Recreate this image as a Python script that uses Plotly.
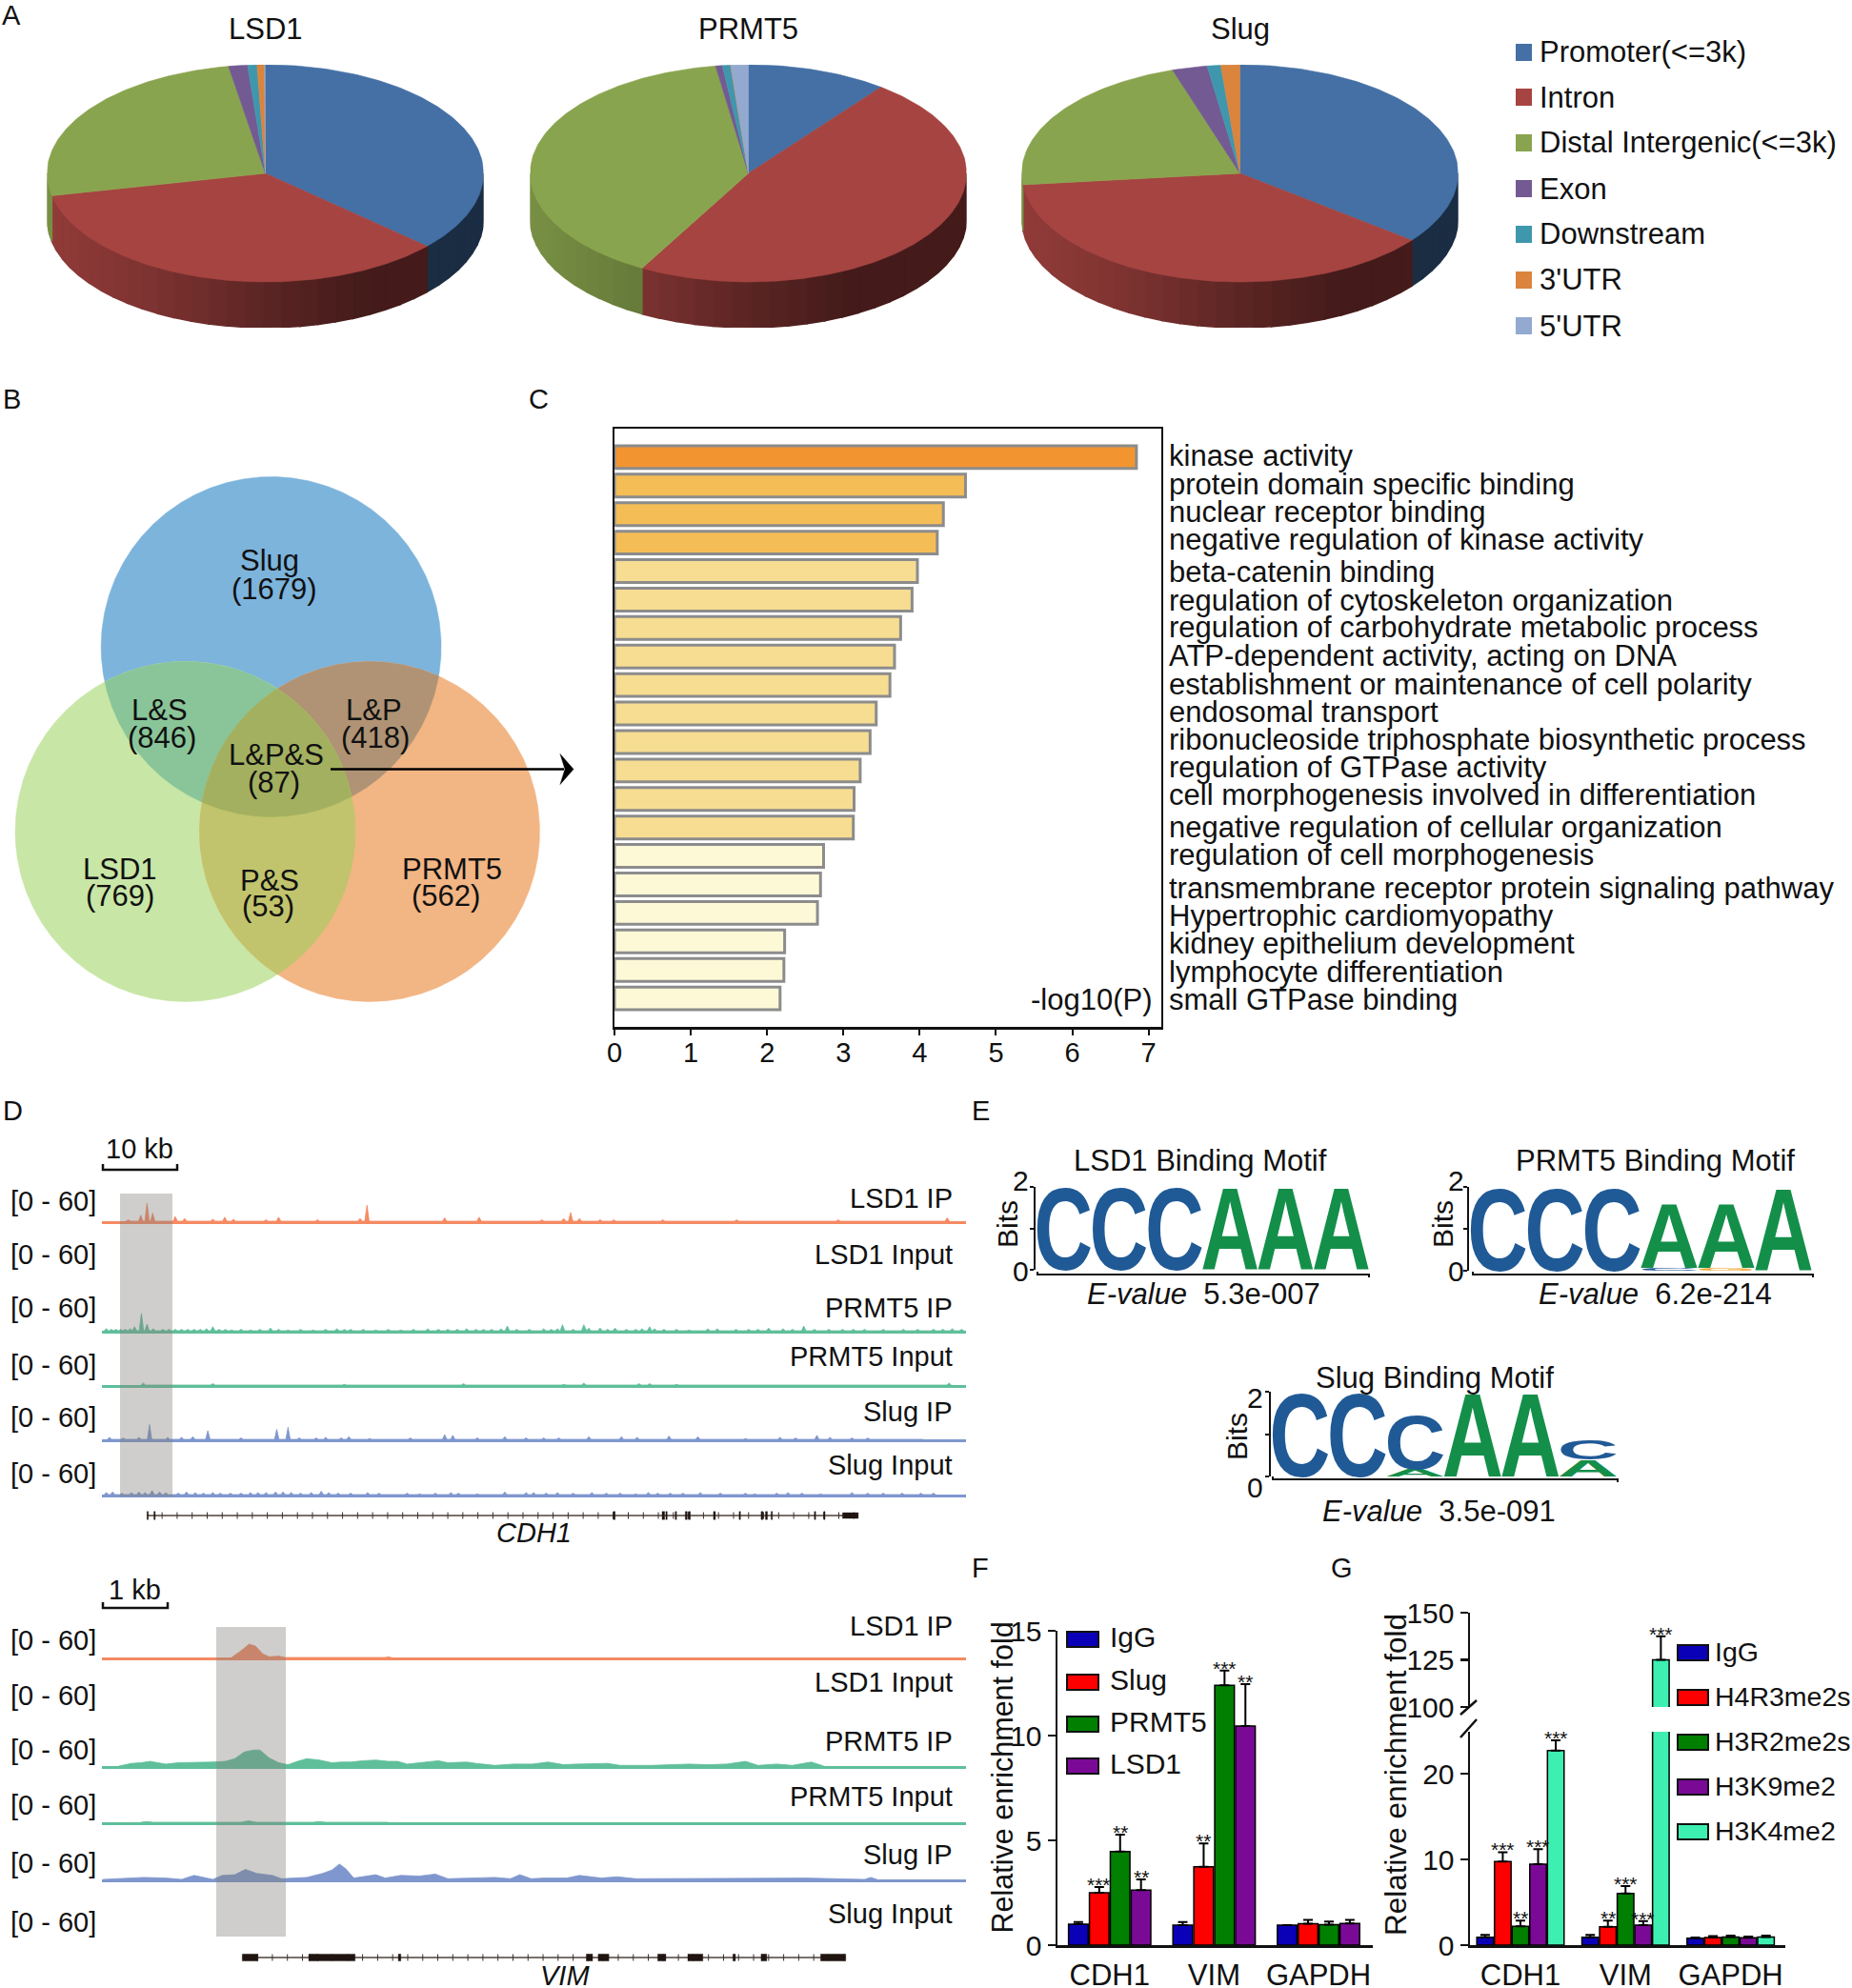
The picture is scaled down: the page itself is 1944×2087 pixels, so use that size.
import json
import numpy as np
import plotly.graph_objects as go

W, H = 1944, 2087
FONT = "Liberation Sans"

# ---------- A: genomic distribution ----------
feature_names = ["Promoter(<=3k)", "Intron", "Distal Intergenic(<=3k)", "Exon", "Downstream", "3'UTR", "5'UTR"]
feature_colors = ["#4470A5", "#A64441", "#89A44E", "#735A92", "#3F97AE", "#DB843D", "#93A9CF"]
pie_names = ["LSD1", "PRMT5", "Slug"]
lsd1_shares = [36.7, 35.0, 25.6, 1.4, 0.7, 0.55, 0.05]
prmt5_shares = [10.4, 47.7, 39.5, 0.5, 0.6, 0.02, 1.28]
slug_shares = [35.6, 37.8, 21.7, 2.6, 1.0, 1.4, 0.0]

# ---------- B: overlap ----------
venn_labels = ["Slug", "L&S", "L&P", "L&P&S", "LSD1", "P&S", "PRMT5"]
venn_counts = [1679, 846, 418, 87, 769, 53, 562]

# ---------- C: enrichment ----------
go_terms = ["kinase activity", "protein domain specific binding", "nuclear receptor binding",
            "negative regulation of kinase activity", "beta-catenin binding",
            "regulation of cytoskeleton organization", "regulation of carbohydrate metabolic process",
            "ATP-dependent activity, acting on DNA", "establishment or maintenance of cell polarity",
            "endosomal transport", "ribonucleoside triphosphate biosynthetic process",
            "regulation of GTPase activity", "cell morphogenesis involved in differentiation",
            "negative regulation of cellular organization", "regulation of cell morphogenesis",
            "transmembrane receptor protein signaling pathway", "Hypertrophic cardiomyopathy",
            "kidney epithelium development", "lymphocyte differentiation", "small GTPase binding"]
go_values = [6.84, 4.60, 4.31, 4.23, 3.97, 3.90, 3.75, 3.67, 3.61, 3.43,
             3.35, 3.22, 3.14, 3.13, 2.74, 2.70, 2.66, 2.23, 2.22, 2.17]
go_colors = ["#F29530"] + ["#F5BD56"] * 3 + ["#F7DD91"] * 10 + ["#FDF9D6"] * 6

# ---------- D: tracks (position along the browser window, signal 0-60) ----------
track_names = ["LSD1 IP", "LSD1 Input", "PRMT5 IP", "PRMT5 Input", "Slug IP", "Slug Input"]
track_colors = ["#F58A63", "#F58A63", "#5FBF9B", "#5FBF9B", "#7F97CE", "#7F97CE"]
cdh1_lsd1_ip = [(205,2),(225,9),(235,27),(244,12),(280,7),(295,4),(340,3),(359,6),(373,3),(425,2),(445,6),(507,2),
                (575,4),(586,24),(710,5),(765,6),(865,2),(900,4),(911,13),(925,4),(958,2),(980,2),(1058,2),(1176,2),
                (1338,2),(1462,1),(1512,5)]
cdh1_lsd1_input = []
cdh1_prmt5_ip = [(170,3),(178,2),(185,2),(193,2),(200,2),(208,3),(215,6),(226,26),(235,10),(245,3),(260,2),(270,2),
                 (280,2),(290,2),(300,2),(310,2),(320,2),(330,3),(340,6),(350,2),(360,2),(370,1),(385,2),(400,1),
                 (415,2),(432,4),(445,2),(460,1),(480,2),(500,1),(520,2),(538,3),(550,2),(560,2),(580,2),(600,1),
                 (620,2),(640,1),(660,2),(683,3),(700,2),(715,2),(730,2),(745,3),(760,2),(772,2),(785,2),(800,3),
                 (810,7),(825,2),(845,2),(868,3),(880,2),(890,3),(898,9),(915,2),(932,9),(940,4),(958,4),(970,2),
                 (982,4),(1000,2),(1015,2),(1025,3),(1037,6),(1045,3),(1060,2),(1080,2),(1100,1),(1130,3),(1145,3),
                 (1175,2),(1195,2),(1210,2),(1227,4),(1250,3),(1265,2),(1283,7),(1300,2),(1323,2),(1345,2),(1362,2),
                 (1380,2),(1410,2),(1442,2),(1465,2),(1490,2),(1505,2),(1520,3),(1535,2)]
cdh1_prmt5_input = [(229,3),(340,2),(550,1),(740,2),(900,1),(932,3),(1020,2),(1037,2),(1080,1),(1245,1),(1515,3)]
cdh1_slug_ip = [(175,3),(197,2),(222,3),(239,22),(268,3),(290,3),(308,4),(332,13),(385,2),(442,15),(460,18),(478,2),
                (505,2),(520,3),(545,2),(557,4),(590,1),(625,1),(655,2),(710,7),(723,6),(762,2),(806,4),(840,2),
                (868,2),(892,2),(940,4),(992,4),(1017,3),(1068,5),(1114,4),(1190,1),(1245,3),(1270,2),(1304,6),
                (1325,3),(1360,2),(1385,2),(1420,1),(1470,1)]
cdh1_slug_input = [(170,3),(180,4),(195,2),(210,3),(222,4),(232,3),(243,6),(255,4),(265,3),(285,2),(298,4),(312,3),
                   (325,2),(340,3),(352,2),(368,2),(385,2),(400,3),(412,3),(425,3),(440,4),(452,4),(465,3),(480,2),
                   (497,3),(513,5),(525,3),(540,2),(560,2),(587,3),(605,2),(625,1),(650,2),(670,1),(695,2),(720,3),
                   (732,2),(762,1),(806,4),(840,3),(852,3),(872,2),(890,3),(915,2),(945,3),(968,2),(990,2),(1015,1),
                   (1035,3),(1050,2),(1070,2),(1090,2),(1118,3),(1150,2),(1170,1),(1190,2),(1205,1),(1240,2),(1258,3),
                   (1280,2),(1310,1),(1360,3),(1385,2),(1410,2),(1440,2),(1470,2),(1490,2)]
cdh1_tracks = [cdh1_lsd1_ip, cdh1_lsd1_input, cdh1_prmt5_ip, cdh1_prmt5_input, cdh1_slug_ip, cdh1_slug_input]

vim_lsd1_ip = [(370,0),(385,10),(398,20),(408,17),(420,5),(430,1),(445,2),(455,0),(615,0),(620,1),(625,0)]
vim_lsd1_input = []
vim_prmt5_ip = [(190,0),(210,4),(225,5),(240,7),(252,5),(265,3),(285,5),(300,5),(320,6),(340,6),(360,7),(375,11),
                (390,21),(405,24),(415,24),(430,12),(445,5),(460,2),(475,7),(490,11),(510,9),(530,5),(545,6),(560,6),
                (580,8),(600,9),(620,7),(635,7),(650,3),(675,6),(700,8),(715,5),(730,5),(745,6),(760,4),(790,1),
                (820,3),(850,3),(875,6),(900,2),(920,3),(940,3),(970,4),(990,1),(1040,1),(1100,3),(1130,2),
                (1160,3),(1190,7),(1210,1),(1240,3),(1265,1),(1295,6),(1315,0)]
vim_prmt5_input = [(225,0),(235,1),(245,0),(385,0),(397,2),(410,0),(500,0),(510,1),(520,0),(600,0),(610,1),(620,0)]
vim_slug_ip = [(165,0),(200,2),(230,3),(265,2),(290,0),(310,6),(325,3),(340,0),(355,6),(375,7),(392,15),(410,9),
               (435,6),(450,1),(470,2),(490,3),(515,9),(530,14),(542,23),(552,16),(565,2),(585,5),(600,7),(615,2),
               (640,6),(670,5),(695,8),(715,1),(755,2),(790,3),(815,1),(830,7),(848,1),(870,2),(905,2),(925,6),
               (960,2),(985,4),(1015,1),(1075,1),(1190,2),(1230,2),(1285,2),(1380,0),(1390,3),(1400,0)]
vim_slug_input = []
vim_tracks = [vim_lsd1_ip, vim_lsd1_input, vim_prmt5_ip, vim_prmt5_input, vim_slug_ip, vim_slug_input]

cdh1_exons = [(235,237),(246,248),(979,982),(1057,1061),(1063,1065),(1078,1080),(1094,1097),(1099,1102),(1139,1142),
              (1180,1182),(1215,1218),(1222,1225),(1231,1233),(1300,1302),(1315,1317),(1345,1370)]
vim_exons = [(387,412),(493,508),(508,567),(636,640),(936,946),(955,972),(1050,1063),(1098,1122),(1170,1174),
             (1215,1224),(1310,1350)]

# ---------- E: motifs (slot, letter, lower bits, upper bits) ----------
lsd1_motif = [(0,"C",0,2),(1,"C",0,2),(2,"C",0,2),(3,"A",0,2),(4,"A",0,2),(5,"A",0,2)]
prmt5_motif = [(0,"C",0,2),(1,"C",0,2),(2,"C",0,2),(3,"C",0,0.07),(3,"A",0.07,1.65),(4,"G",0,0.07),(4,"A",0.07,1.65),(5,"A",0,2)]
slug_motif = [(0,"C",0,2),(1,"C",0,2),(2,"A",0,0.17),(2,"C",0.17,1.45),(3,"A",0,2),(4,"A",0,2),(5,"A",0,0.4),(5,"C",0.4,0.88)]
letter_colors = {"C": "#205A96", "A": "#148F4A", "G": "#F0A92F"}

# ---------- F ----------
genes = ["CDH1", "VIM", "GAPDH"]
f_names = ["IgG", "Slug", "PRMT5", "LSD1"]
f_colors = ["#0A00B8", "#FF0000", "#007F00", "#7A0A96"]
f_igg = [1.0, 0.95, 0.95];   f_igg_err = [0.1, 0.15, 0.0]
f_slug = [2.5, 3.74, 1.02];  f_slug_err = [0.27, 1.11, 0.18]
f_prmt5 = [4.47, 12.4, 0.98]; f_prmt5_err = [0.8, 0.7, 0.15]
f_lsd1 = [2.62, 10.45, 1.03]; f_lsd1_err = [0.52, 2.0, 0.17]
f_stars = [["", "***", "**", "**"], ["", "**", "***", "**"], ["", "", "", ""]]

# ---------- G ----------
g_names = ["IgG", "H4R3me2s", "H3R2me2s", "H3K9me2", "H3K4me2"]
g_colors = ["#0A00B8", "#FF0000", "#007F00", "#7A0A96", "#3DEFB0"]
g_igg = [0.93, 0.93, 0.8];     g_igg_err = [0.27, 0.27, 0.1]
g_h4r3 = [9.75, 2.15, 0.9];    g_h4r3_err = [1.1, 0.7, 0.15]
g_h3r2 = [2.2, 6.04, 0.95];    g_h3r2_err = [0.65, 0.86, 0.15]
g_h3k9 = [9.45, 2.33, 0.85];   g_h3k9_err = [1.75, 0.47, 0.15]
g_h3k4 = [22.7, 125.0, 0.95];  g_h3k4_err = [1.2, 12.5, 0.15]
g_stars = [["", "***", "**", "***", "***"], ["", "**", "***", "***", "***"], ["", "", "", "", ""]]

# =============================================================
fig = go.Figure()
layout = {}
annotations = []
shapes = []
axis_count = [0]
logo_jobs = []


def fx(x):
    return x / W


def fy(y):
    return 1 - y / H


def new_axes(x0, x1, ytop, ybot, xopts=None, yopts=None):
    axis_count[0] += 1
    n = axis_count[0]
    sx = "" if n == 1 else str(n)
    base = dict(visible=False, fixedrange=True, showgrid=False, zeroline=False)
    xa = dict(base, domain=[fx(x0), fx(x1)], anchor="y" + sx)
    ya = dict(base, domain=[fy(ybot), fy(ytop)], anchor="x" + sx)
    xa.update(xopts or {})
    ya.update(yopts or {})
    layout["xaxis" + sx] = xa
    layout["yaxis" + sx] = ya
    return "x" + sx, "y" + sx


def text(x, y, s, size=30, anchor="center", angle=0, color="#111111", **kw):
    annotations.append(dict(x=fx(x), y=fy(y), xref="paper", yref="paper", text=s, showarrow=False,
                            xanchor=anchor, yanchor="middle", textangle=angle, borderpad=0, borderwidth=0,
                            font=dict(family=FONT, size=size, color=color), **kw))


def rect(x0, y0, x1, y1, fill, line=None, lw=0):
    shapes.append(dict(type="rect", xref="paper", yref="paper", x0=fx(x0), x1=fx(x1), y0=fy(y0), y1=fy(y1),
                       fillcolor=fill, line=dict(color=line or fill, width=lw), layer="above"))


def path(points, color="#000000", lw=2, fill=None):
    d = "M " + " L ".join(f"{fx(x):.6f},{fy(y):.6f}" for x, y in points)
    if fill:
        d += " Z"
    shapes.append(dict(type="path", xref="paper", yref="paper", path=d, layer="above",
                       line=dict(color=color, width=lw), fillcolor=fill or "rgba(0,0,0,0)"))


def poly(xa, ya, xs, ys, color, lw=0.6):
    fig.add_trace(go.Scatter(x=xs, y=ys, xaxis=xa, yaxis=ya, mode="lines", fill="toself", fillcolor=color,
                             line=dict(color=color, width=lw), hoverinfo="skip", showlegend=False))


def shade(hex_color, f):
    h = hex_color.lstrip("#")
    return "rgb({},{},{})".format(*[int(int(h[i:i + 2], 16) * f) for i in (0, 2, 4)])


# ---------- A ----------
RX, RY, DEPTH = 229, 114, 48
pie_cx = [278.5, 785.5, 1301.5]
pie_cy = 182
for name, shares, cx in zip(pie_names, [lsd1_shares, prmt5_shares, slug_shares], pie_cx):
    d = DEPTH / RY
    xa, ya = new_axes(cx - RX, cx + RX, pie_cy - RY, pie_cy + RY + DEPTH,
                      dict(range=[-1, 1]), dict(range=[-1 - d, 1]))
    edges = np.concatenate([[0], np.cumsum(shares)]) / sum(shares) * 360
    for i, col in enumerate(feature_colors):
        a0, a1 = max(edges[i], 90), min(edges[i + 1], 270)
        if a1 > a0:
            steps = np.linspace(a0, a1, max(2, int((a1 - a0) / 5) + 2))
            for s0, s1 in zip(steps[:-1], steps[1:]):
                r0, r1 = np.radians([s0, s1])
                x0, x1 = np.sin(r0), np.sin(r1)
                y0, y1 = np.cos(r0), np.cos(r1)
                f = float(np.interp((x0 + x1) / 2, [-1, -0.5, 0, 0.45, 1], [0.88, 0.75, 0.55, 0.41, 0.41]))
                c = shade(col, f)
                poly(xa, ya, [x0, x1, x1, x0, x0], [y0, y1, y1 - d, y0 - d, y0], c, 1.5)
    for i, col in enumerate(feature_colors):
        if edges[i + 1] > edges[i]:
            t = np.radians(np.linspace(edges[i], edges[i + 1], max(2, int(edges[i + 1] - edges[i]) + 2)))
            poly(xa, ya, np.r_[0, np.sin(t), 0], np.r_[0, np.cos(t), 0], col)
    text(cx, 31, name, 31)

legend_y = [55, 102, 150, 198, 246, 294, 342]
for nm, col, y in zip(feature_names, feature_colors, legend_y):
    rect(1591, y - 9, 1608, y + 9, col)
    text(1616, y, nm, 31, "left")

# ---------- B ----------
vx, vy = new_axes(0, 620, 490, 1060, dict(range=[0, 620]), dict(range=[1060, 490]))
CIRC = {"S": (284.6, 679, 178.5), "L": (194.5, 873, 178.5), "P": (388, 873, 178.5)}


def region(keys):
    pts = []
    for k in keys:
        cx, cy, r = CIRC[k]
        t = np.radians(np.arange(0, 360, 0.5))
        px, py = cx + r * np.cos(t), cy + r * np.sin(t)
        keep = np.ones_like(t, dtype=bool)
        for o in keys:
            if o != k:
                ox, oy, orr = CIRC[o]
                keep &= (px - ox) ** 2 + (py - oy) ** 2 <= orr ** 2
        pts.append(np.c_[px[keep], py[keep]])
    pts = np.vstack(pts)
    c = pts.mean(axis=0)
    order = np.argsort(np.arctan2(pts[:, 1] - c[1], pts[:, 0] - c[0]))
    pts = pts[order]
    return np.r_[pts[:, 0], pts[0, 0]], np.r_[pts[:, 1], pts[0, 1]]


venn_fill = [("S", "#7DB4DC"), ("L", "#C8E6A6"), ("P", "#F2B584"), ("LS", "#89C598"), ("SP", "#AF9374"),
             ("LP", "#C1C46C"), ("LSP", "#A3B060")]
for keys, col in venn_fill:
    xs, ys = region(keys)
    poly(vx, vy, xs, ys, col, 0.5)

venn_name_pos = [(283, 589), (167, 745), (392, 745), (290, 792), (126, 912), (283, 924), (474, 912)]
venn_count_pos = [(288, 618), (170, 774), (394, 774), (287, 821), (126, 941), (281, 952), (468, 941)]
for nm, ct, p, q in zip(venn_labels, venn_counts, venn_name_pos, venn_count_pos):
    text(p[0], p[1], nm, 31)
    text(q[0], q[1], f"({ct})", 31)
path([(347, 807.5), (592, 807.5)], "#000000", 2.5)
path([(602, 807.5), (588, 791.5), (593, 807.5), (588, 823.5)], "#000000", 0.5, fill="#000000")

# ---------- C ----------
cx_, cy_ = new_axes(645, 1218.5, 450, 1078,
                    dict(visible=True, range=[0, 7.16], tickvals=list(range(8)), ticks="outside", ticklen=6,
                         tickwidth=2, tickcolor="#111111", showline=True, linewidth=2.5, linecolor="#111111",
                         mirror=True, ticklabelstandoff=-6, tickfont=dict(family=FONT, size=29, color="#111111")),
                    dict(visible=True, range=[20, -1], showticklabels=False, ticks="", showline=True,
                         linewidth=2.5, linecolor="#111111", mirror=True))
fig.add_trace(go.Bar(x=go_values, y=list(range(20)), orientation="h", width=0.8, xaxis=cx_, yaxis=cy_,
                     marker=dict(color=go_colors, line=dict(color="#8C8C8C", width=3)),
                     hoverinfo="skip", showlegend=False))
go_label_y = [479, 508, 537, 567, 600, 630, 659, 688, 718, 747, 776, 805, 834, 868, 897, 932, 961, 991, 1020, 1049]
for t, y in zip(go_terms, go_label_y):
    text(1227, y, t, 31, "left")
text(1210, 1049, "-log10(P)", 31, "right")

# ---------- D ----------
GRANGE = [163, 1542]


def spikes(pairs, hw=3.5):
    xs, ys = [], []
    for i, (p, h) in enumerate(pairs):
        left = hw if i == 0 else min(hw, (p - pairs[i - 1][0]) / 2)
        right = hw if i == len(pairs) - 1 else min(hw, (pairs[i + 1][0] - p) / 2)
        xs += [p - left, p, p + right]
        ys += [0, h, 0]
    return xs, ys


def smooth(pairs):
    return [p for p, _ in pairs], [h for _, h in pairs]


def add_tracks(data, baselines, label_y, name_y, draw):
    for dat, col, base, ly, ny, nm in zip(data, track_colors, baselines, label_y, name_y, track_names):
        xa, ya = new_axes(107, 1014, base - 42, base,
                          dict(visible=True, range=GRANGE, showticklabels=False, ticks="", showline=True,
                               linewidth=3, linecolor=col),
                          dict(range=[0, 60]))
        if dat:
            xs, ys = draw(dat)
            fig.add_trace(go.Scatter(x=xs, y=ys, xaxis=xa, yaxis=ya, mode="lines", fill="tozeroy", fillcolor=col,
                                     line=dict(color=col, width=0.8), hoverinfo="skip", showlegend=False))
        text(56, ly, "[0 - 60]", 29)
        text(1000, ny, nm, 29, "right")


add_tracks(cdh1_tracks, [1282, 1340, 1397, 1454, 1511, 1569], [1261, 1317, 1373, 1433, 1488, 1547],
           [1258, 1317, 1373, 1424, 1482, 1538], spikes)
add_tracks(vim_tracks, [1740, 1797, 1854, 1913, 1973, 2035], [1722, 1780, 1837, 1895, 1956, 2018],
           [1707, 1766, 1828, 1886, 1947, 2009], smooth)
GRAY = "rgba(130,125,122,0.38)"
rect(126, 1253, 181, 1571, GRAY)
rect(227, 1708, 300, 2033, GRAY)


def gene_model(y, start, end, exons, big, small, label, lx, ly, tick_step):
    xa, ya = new_axes(107, 1014, y - 10, y + 10, dict(range=GRANGE), dict(range=[-1, 1]))
    fig.add_trace(go.Scatter(x=[start, end], y=[0, 0], xaxis=xa, yaxis=ya, mode="lines",
                             line=dict(color="#7A716C", width=2), hoverinfo="skip", showlegend=False))
    tv = np.arange(start + tick_step, end, tick_step)
    fig.add_trace(go.Scatter(x=tv, y=[0] * len(tv), xaxis=xa, yaxis=ya, mode="markers",
                             marker=dict(symbol="line-ns", size=5, line=dict(color="#3A302C", width=1)),
                             hoverinfo="skip", showlegend=False))
    for e0, e1 in exons:
        h = big if e1 - e0 > 8 else small
        poly(xa, ya, [e0, e1, e1, e0, e0], [-h, -h, h, h, -h], "#1F1410", 0.4)
    text(lx, ly, f"<i>{label}</i>", 29)


gene_model(1591, 235, 1370, cdh1_exons, 0.3, 0.42, "CDH1", 560, 1609, 24)
gene_model(2055, 387, 1350, vim_exons, 0.36, 0.36, "VIM", 593, 2074, 24)

path([(108, 1222), (108, 1228), (186, 1228), (186, 1222)], "#111111", 2.5)
text(146, 1206, "10 kb", 29)
path([(108, 1682), (108, 1688), (176, 1688), (176, 1682)], "#111111", 2.5)
text(141, 1669, "1 kb", 29)

# ---------- E ----------
LOGO_FS = 100


def logo(motif, x0, x1, ytop, ybot, axis_y, line_x0, line_x1, num_x, num2_y, num0_y, bits_x, bits_y,
         title, title_x, title_y, evalue, ev_x, ev_y):
    xa, ya = new_axes(x0, x1, ytop, ybot, dict(range=[0, 6]),
                      dict(visible=True, range=[0, 2], tickvals=[0, 1, 2], ticks="outside", ticklen=4, tickwidth=2,
                           showticklabels=False, showline=True, linewidth=2, linecolor="#111111", tickcolor="#111111"))
    for slot, letter, b0, b1 in motif:
        annotations.append(dict(x=slot + 0.5, y=(b0 + b1) / 2, xref=xa, yref=ya, text=letter, showarrow=False,
                                font=dict(family=FONT, size=LOGO_FS, color=letter_colors[letter], weight="bold")))
        logo_jobs.append(dict(i=len(annotations) - 1, xa=xa.replace("x", "xaxis"), ya=ya.replace("y", "yaxis"),
                              x0=slot, x1=slot + 1, b0=b0, b1=b1))
    path([(line_x0, axis_y - 3), (line_x0, axis_y), (line_x1, axis_y), (line_x1, axis_y + 3)], "#111111", 2)
    text(num_x, num2_y, "2", 30)
    text(num_x, num0_y, "0", 30)
    text(bits_x, bits_y, "Bits", 30, angle=-90)
    text(title_x, title_y, title, 31)
    text(ev_x, ev_y, "<i>E-value</i>\u00a0\u00a0" + evalue, 31)


logo(lsd1_motif, 1087, 1437, 1246, 1333, 1338, 1089, 1437, 1071, 1239, 1334, 1057, 1285,
     "LSD1 Binding Motif", 1260, 1218, "5.3e-007", 1263, 1358)
logo(prmt5_motif, 1542, 1902, 1246, 1334, 1338, 1546, 1903, 1528, 1239, 1334, 1514, 1285,
     "PRMT5 Binding Motif", 1737, 1218, "6.2e-214", 1737, 1358)
logo(slug_motif, 1334, 1697, 1461, 1550, 1553, 1336, 1698, 1317, 1467, 1561, 1298, 1508,
     "Slug Binding Motif", 1506, 1446, "3.5e-091", 1510, 1586)


# ---------- F and G ----------
def bars(xa, ya, names, colors, vals, errs, bw):
    n = len(names)
    for j, (nm, col, v, e) in enumerate(zip(names, colors, vals, errs)):
        fig.add_trace(go.Bar(x=[i + (j - (n - 1) / 2) * bw for i in range(3)], y=v, width=bw * 0.94, name=nm,
                             xaxis=xa, yaxis=ya, hoverinfo="skip", showlegend=False,
                             marker=dict(color=col, line=dict(color="#000000", width=1.5)),
                             error_y=dict(type="data", symmetric=False, array=e, arrayminus=[0, 0, 0],
                                          color="#000000", thickness=2, width=5)))


def star(xa, ya, x, y, s):
    annotations.append(dict(x=x, y=y, xref=xa, yref=ya, text=s, showarrow=False, yanchor="bottom", yshift=-10,
                            borderpad=0, font=dict(family=FONT, size=21, color="#111111")))


tick_y = dict(ticks="outside", ticklen=8, tickwidth=2.5, tickcolor="#111111", showline=True, linewidth=2.5,
              linecolor="#111111", tickfont=dict(family=FONT, size=30, color="#111111"), visible=True)
tick_x = dict(visible=True, tickvals=[0, 1, 2], ticktext=genes, ticks="outside", ticklen=2,
              tickcolor="rgba(0,0,0,0)", showline=True, linewidth=2.5, linecolor="#111111",
              tickfont=dict(family=FONT, size=31, color="#111111"))

fx_, fy_ = new_axes(1110, 1441, 1712, 2042, dict(tick_x, range=[-0.5, 2.52]),
                    dict(tick_y, range=[0, 15], tickvals=[0, 5, 10, 15]))
f_vals = [f_igg, f_slug, f_prmt5, f_lsd1]
f_errs = [f_igg_err, f_slug_err, f_prmt5_err, f_lsd1_err]
F_BW = 0.2
bars(fx_, fy_, f_names, f_colors, f_vals, f_errs, F_BW)
for i in range(3):
    for j in range(4):
        if f_stars[i][j]:
            star(fx_, fy_, i + (j - 1.5) * F_BW, f_vals[j][i] + f_errs[j][i], f_stars[i][j])
text(1051.5, 1866, "Relative enrichment fold", 30.5, angle=-90)
for nm, col, y in zip(f_names, f_colors, [1721, 1766, 1810, 1854]):
    rect(1120, y - 8, 1153, y + 8, col, "#111111", 2)
    text(1165, y - 2.5, nm, 30, "left")

g_lo_x, g_lo_y = new_axes(1543, 1874, 1818, 2042, dict(tick_x, range=[-0.48, 2.52]),
                          dict(tick_y, range=[0, 24.9], tickvals=[0, 10, 20]))
g_hi_x, g_hi_y = new_axes(1543, 1874, 1693, 1792, dict(range=[-0.48, 2.52]),
                          dict(tick_y, range=[100, 150], tickvals=[100, 125, 150]))
g_vals = [g_igg, g_h4r3, g_h3r2, g_h3k9, g_h3k4]
g_errs = [g_igg_err, g_h4r3_err, g_h3r2_err, g_h3k9_err, g_h3k4_err]
G_BW = 0.168
bars(g_lo_x, g_lo_y, g_names, g_colors, g_vals, g_errs, G_BW)
bars(g_hi_x, g_hi_y, g_names, g_colors, g_vals, g_errs, G_BW)
for i in range(3):
    for j in range(5):
        if g_stars[i][j]:
            top = g_vals[j][i] + g_errs[j][i]
            xa_, ya_ = (g_hi_x, g_hi_y) if top > 100 else (g_lo_x, g_lo_y)
            star(xa_, ya_, i + (j - 2) * G_BW, top, g_stars[i][j])
path([(1533, 1800), (1550, 1785)], "#111111", 2.5)
path([(1533, 1824), (1550, 1805)], "#111111", 2.5)
text(1465, 1863, "Relative enrichment fold", 31.5, angle=-90)
for nm, col, y in zip(g_names, g_colors, [1735, 1782, 1829, 1876, 1923]):
    rect(1761, y - 8, 1793, y + 8, col, "#111111", 2)
    text(1800, y - 1.5, nm, 28.5, "left")

# panel letters
for lab, x, y in [("A", 12, 16), ("B", 12, 419), ("C", 565, 419), ("D", 13, 1166), ("E", 1029, 1166),
                  ("F", 1029, 1646), ("G", 1408, 1646)]:
    text(x, y, lab, 29)

fig.update_layout(width=W, height=H, autosize=False,
                  margin=dict(l=0, r=0, t=0, b=0, pad=0, autoexpand=False),
                  paper_bgcolor="white", plot_bgcolor="rgba(0,0,0,0)", showlegend=False, barmode="overlay",
                  annotations=annotations, shapes=shapes, **layout)

post = """
document.body.style.margin = '0';
var gd = document.getElementById('{plot_id}');
var jobs = %s;
var fs = %d;
function stretchLogos() {
  var fl = gd._fullLayout;
  var base = gd.querySelector('.main-svg').getScreenCTM();
  jobs.forEach(function (o) {
    var t = gd.querySelector('.annotation[data-index="' + o.i + '"] text');
    if (!t) return;
    t.removeAttribute('transform');
    var xa = fl[o.xa], ya = fl[o.ya];
    var sx0 = base.e + xa._offset + xa.l2p(o.x0), sx1 = base.e + xa._offset + xa.l2p(o.x1);
    var sy0 = base.f + ya._offset + ya.l2p(o.b0), sy1 = base.f + ya._offset + ya.l2p(o.b1);
    var m = t.parentNode.getScreenCTM();
    var b = t.getBBox();
    var ty = parseFloat(t.getAttribute('y')) || 0;
    var cx = b.x + b.width / 2;
    var sx = (sx1 - sx0) * 1.06 / b.width, sy = (sy0 - sy1) / (0.716 * fs);
    var lx = (sx0 + sx1) / 2 - m.e, ly = sy0 - m.f;
    t.setAttribute('transform', 'translate(' + lx + ',' + ly + ') scale(' + sx + ',' + sy + ') translate(' + (-cx) + ',' + (-ty) + ')');
  });
}
stretchLogos();
""" % (json.dumps(logo_jobs), LOGO_FS)

fig.write_html("out.html", post_script=post, config={"displayModeBar": False, "staticPlot": True})
